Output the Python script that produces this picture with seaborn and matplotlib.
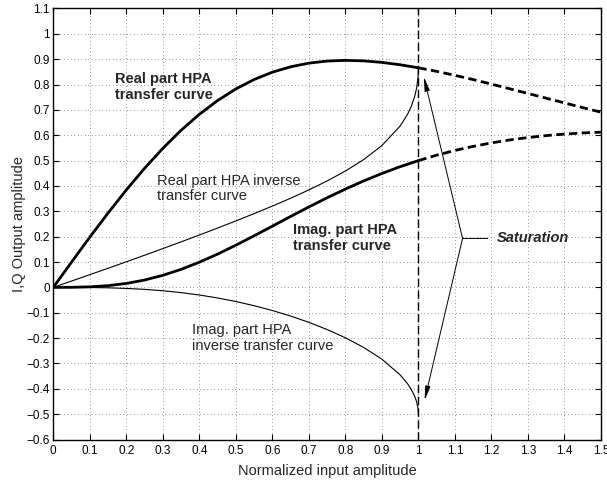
import matplotlib
matplotlib.use("Agg")
import matplotlib.pyplot as plt
import seaborn as sns

# ---- data ----
x_hpa = [0.0, 0.05, 0.1, 0.15, 0.2, 0.25, 0.3, 0.35, 0.4, 0.45, 0.5,
         0.55, 0.6, 0.65, 0.7, 0.75, 0.8, 0.85, 0.9, 0.95, 1.0]
real_hpa = [0.0, 0.0998, 0.198, 0.2933, 0.3843, 0.4697, 0.5484, 0.6195, 0.6825,
            0.7368, 0.7825, 0.8197, 0.8487, 0.870, 0.8844, 0.8926, 0.8953, 0.8933,
            0.8873, 0.878, 0.866]
imag_hpa = [0.0, 0.0003, 0.0021, 0.0068, 0.0155, 0.029, 0.0475, 0.0711, 0.0993,
            0.1313, 0.1663, 0.2034, 0.2415, 0.2797, 0.3172, 0.3534, 0.3877, 0.4197,
            0.4492, 0.476, 0.5]

x_sat = [1.0, 1.05, 1.1, 1.15, 1.2, 1.25, 1.3, 1.35, 1.4, 1.45, 1.5]
real_sat = [0.866, 0.852, 0.8363, 0.8195, 0.8017, 0.7833, 0.7648, 0.7462, 0.7275, 0.7091, 0.691]
imag_sat = [0.5, 0.5213, 0.54, 0.5561, 0.5699, 0.5815, 0.591, 0.5986, 0.6046, 0.6091, 0.6121]

x_inv = [0.0, 0.05, 0.1, 0.15, 0.2, 0.25, 0.3, 0.35, 0.4, 0.45, 0.5, 0.55, 0.6,
         0.65, 0.7, 0.75, 0.8, 0.85, 0.9, 0.95, 0.97, 0.98, 0.99, 0.995, 0.999, 1.0]
real_inv = [0.0, 0.025, 0.0501, 0.0754, 0.1009, 0.1268, 0.153, 0.1795, 0.2065,
            0.234, 0.2621, 0.2909, 0.3206, 0.3516, 0.3844, 0.4197, 0.4588, 0.5039,
            0.5592, 0.6364, 0.6819, 0.7121, 0.7537, 0.7847, 0.8275, 0.866]
imag_inv = [0.0, -0.0001, -0.0005, -0.0017, -0.0041, -0.0078, -0.0133, -0.0206,
            -0.030, -0.0417, -0.0557, -0.0722, -0.0912, -0.113, -0.1379, -0.1662,
            -0.1987, -0.2368, -0.2831, -0.3451, -0.3793, -0.4012, -0.4299, -0.4503,
            -0.4772, -0.5]

x_ticks = [0, 0.1, 0.2, 0.3, 0.4, 0.5, 0.6, 0.7, 0.8, 0.9, 1.0, 1.1, 1.2, 1.3, 1.4, 1.5]
x_ticklabels = ["0", "0.1", "0.2", "0.3", "0.4", "0.5", "0.6", "0.7", "0.8", "0.9",
                "1", "1.1", "1.2", "1.3", "1.4", "1.5"]
y_ticks = [-0.6, -0.5, -0.4, -0.3, -0.2, -0.1, 0, 0.1, 0.2, 0.3, 0.4, 0.5, 0.6,
           0.7, 0.8, 0.9, 1.0, 1.1]
y_ticklabels = ["\u22120.6", "\u22120.5", "\u22120.4", "\u22120.3", "\u22120.2", "\u22120.1",
                "0", "0.1", "0.2", "0.3", "0.4", "0.5", "0.6", "0.7", "0.8", "0.9", "1", "1.1"]

# ---- style ----
sns.set_style("ticks")
plt.rcParams["font.family"] = ["Liberation Sans", "DejaVu Sans"]
plt.rcParams["axes.unicode_minus"] = True

fig = plt.figure(figsize=(6.07, 4.84), dpi=100)
ax = fig.add_axes([0.0878, 0.0919, 0.9022, 0.8906])

thick = 2.0
thin = 0.8
sat_dash = (3.0, 1.6)

sns.lineplot(x=x_hpa, y=real_hpa, ax=ax, color="k", lw=thick, sort=False, estimator=None)
sns.lineplot(x=x_hpa, y=imag_hpa, ax=ax, color="k", lw=thick, sort=False, estimator=None)
sns.lineplot(x=x_sat, y=real_sat, ax=ax, color="k", lw=thick, sort=False, estimator=None)
ax.lines[-1].set_dashes(sat_dash)
sns.lineplot(x=x_sat, y=imag_sat, ax=ax, color="k", lw=thick, sort=False, estimator=None)
ax.lines[-1].set_dashes(sat_dash)
sns.lineplot(x=x_inv, y=real_inv, ax=ax, color="k", lw=thin, sort=False, estimator=None)
sns.lineplot(x=x_inv, y=imag_inv, ax=ax, color="k", lw=thin, sort=False, estimator=None)

ax.axvline(1.0, color="k", lw=1.0, dashes=(6, 2.5))

ax.set_xlim(0, 1.5)
ax.set_ylim(-0.6, 1.1)
ax.set_xticks(x_ticks)
ax.set_xticklabels(x_ticklabels)
ax.set_yticks(y_ticks)
ax.set_yticklabels(y_ticklabels)
ax.tick_params(direction="in", length=4, width=0.8, top=True, right=True,
               labelsize=8.5, colors="k")
ax.tick_params(axis="x", pad=4)
ax.tick_params(axis="y", pad=2.5)
for s in ax.spines.values():
    s.set_linewidth(1.0)
    s.set_color("k")
ax.grid(True, color="0.35", linestyle=(0, (0.6, 3.0)), lw=0.7)
ax.set_axisbelow(True)

ax.set_xlabel("Normalized input amplitude", fontsize=10.5, labelpad=5)
ax.set_ylabel("I,Q Output amplitude", fontsize=10.5, labelpad=0.5)

# ---- annotations ----
fs = 10.5
ax.text(0.169, 0.79, "Real part HPA\ntransfer curve", fontsize=fs, fontweight="bold",
        ha="left", va="center", linespacing=1.15)
ax.text(0.283, 0.39, "Real part HPA inverse\ntransfer curve", fontsize=fs,
        ha="left", va="center", linespacing=1.15)
ax.text(0.657, 0.195, "Imag. part HPA\ntransfer curve", fontsize=fs, fontweight="bold",
        ha="left", va="center", linespacing=1.15)
ax.text(0.379, -0.2, "Imag. part HPA\ninverse transfer curve", fontsize=fs,
        ha="left", va="center", linespacing=1.15)
ax.text(1.215, 0.193, "Saturation", fontsize=fs, fontweight="bold", fontstyle="italic",
        ha="left", va="center")

jx, jy = 1.121, 0.193
ap = dict(arrowstyle="-|>,head_length=0.7,head_width=0.13", lw=0.7, color="k",
          shrinkA=0, shrinkB=0, mutation_scale=12)
ax.annotate("", xy=(1.015, 0.83), xytext=(jx, jy), arrowprops=ap)
ax.annotate("", xy=(1.017, -0.445), xytext=(jx, jy), arrowprops=ap)
ax.annotate("", xy=(1.19, jy), xytext=(jx, jy),
            arrowprops=dict(arrowstyle="-", lw=0.7, color="k", shrinkA=0, shrinkB=0))

fig.savefig("out.png", dpi=100)
